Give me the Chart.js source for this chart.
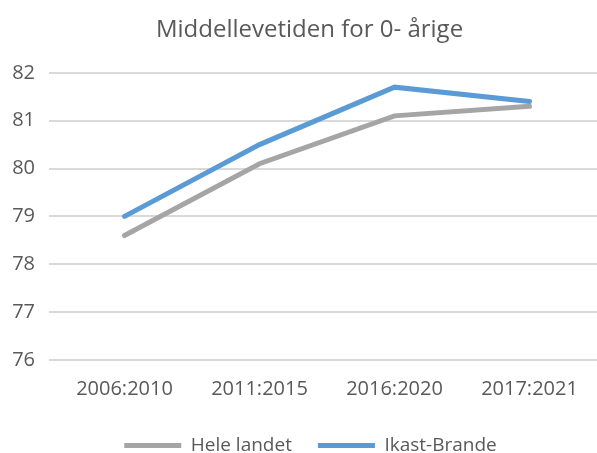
<!DOCTYPE html>
<html>
<head>
<meta charset="utf-8">
<script src="https://cdn.jsdelivr.net/npm/chart.js@4"></script>
<style>
  html, body { margin: 0; padding: 0; background: #fff; }
  #wrap { width: 597px; height: 453px; }
</style>
</head>
<body>
<div id="wrap"><canvas id="chart"></canvas></div>
<script>
const periods = ['2006:2010', '2011:2015', '2016:2020', '2017:2021'];
const heleLandet = [78.6, 80.1, 81.1, 81.3];
const ikastBrande = [79.0, 80.5, 81.7, 81.4];

const FONT = "'Open Sans', 'Liberation Sans', sans-serif";

// squeeze the legend box and nudge title/legend a bit right, like the Excel original
const nudge = {
  id: 'nudge',
  beforeLayout(chart) {
    const lg = chart.legend;
    if (lg && !lg._squeezed) {
      const fit = lg.fit.bind(lg);
      lg.fit = function () { fit(); this.height = 43; };
      lg._squeezed = true;
    }
  },
  afterLayout(chart) {
    const lg = chart.legend;
    if (lg) { lg.left += 12; lg.right += 12; }
    const t = chart.titleBlock;
    if (t) { t.left += 11; t.right += 11; }
  }
};

const ctx = document.getElementById('chart').getContext('2d');
new Chart(ctx, {
  type: 'line',
  data: {
    labels: periods,
    datasets: [
      {
        label: 'Hele landet',
        data: heleLandet,
        borderColor: '#A5A5A5',
        backgroundColor: '#A5A5A5',
        borderWidth: 5,
        borderCapStyle: 'round',
        pointRadius: 0,
        tension: 0
      },
      {
        label: 'Ikast-Brande',
        data: ikastBrande,
        borderColor: '#5B9BD5',
        backgroundColor: '#5B9BD5',
        borderWidth: 5,
        borderCapStyle: 'round',
        pointRadius: 0,
        tension: 0
      }
    ]
  },
  options: {
    responsive: true,
    maintainAspectRatio: false,
    animation: false,
    layout: { padding: { left: 0, right: 0, top: 16, bottom: 0 } },
    plugins: {
      title: {
        display: true,
        text: 'Middellevetiden for 0- årige',
        color: '#595959',
        font: { family: FONT, size: 24, weight: 'normal' },
        padding: { top: 0, bottom: 28 }
      },
      legend: {
        position: 'bottom',
        labels: {
          usePointStyle: true,
          pointStyle: 'line',
          pointStyleWidth: 57,
          color: '#595959',
          font: { family: FONT, size: 19 },
          padding: 26
        }
      },
      tooltip: { enabled: false }
    },
    scales: {
      x: {
        offset: true,
        grid: { display: false },
        border: { display: false },
        ticks: { color: '#595959', font: { family: FONT, size: 20 }, padding: 9, maxRotation: 0 }
      },
      y: {
        min: 76,
        max: 82,
        ticks: { stepSize: 1, color: '#595959', font: { family: FONT, size: 20 }, padding: 14 },
        grid: { color: '#D9D9D9', lineWidth: 2 },
        border: { display: false },
        afterFit: scale => { scale.width = 57; }
      }
    }
  },
  plugins: [nudge]
});
</script>
</body>
</html>
